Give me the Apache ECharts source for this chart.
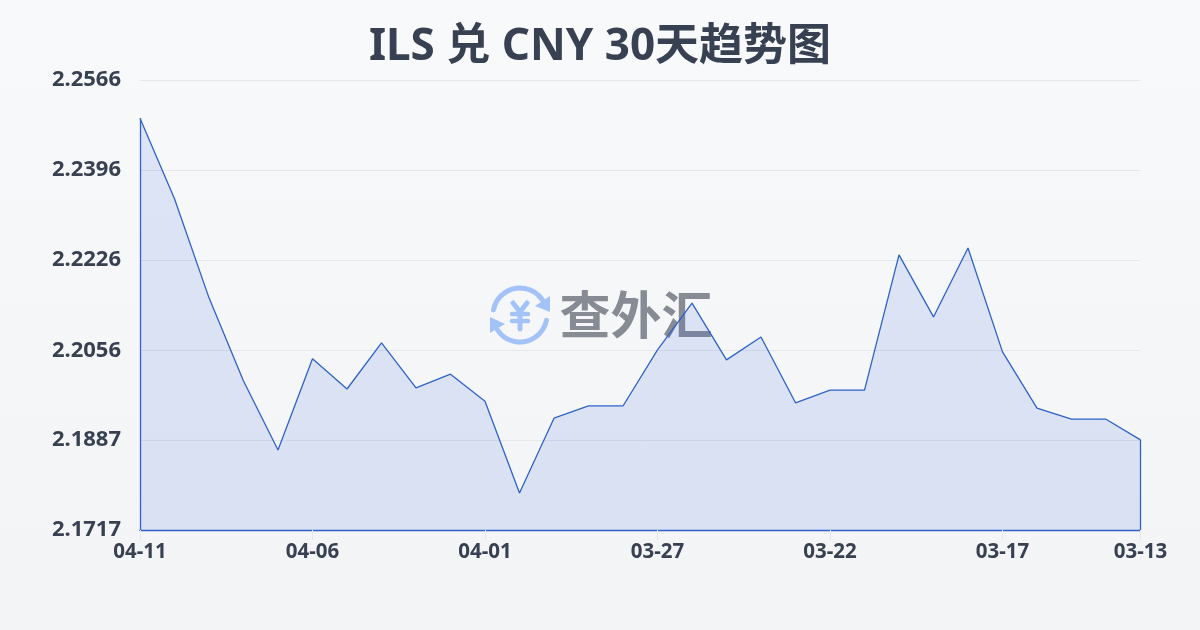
<!DOCTYPE html>
<html>
<head>
<meta charset="utf-8">
<style>
  html, body { margin: 0; padding: 0; }
  #chart { width: 1200px; height: 630px; }
</style>
<script src="https://cdn.jsdelivr.net/npm/echarts@6/dist/echarts.min.js"></script>
</head>
<body>
<div id="chart"></div>
<script>
var dates = ['04-11','04-10','04-09','04-08','04-07','04-06','04-05','04-04','04-03','04-02',
  '04-01','03-31','03-30','03-29','03-28','03-27','03-26','03-25','03-24','03-23',
  '03-22','03-21','03-20','03-19','03-18','03-17','03-16','03-15','03-14','03-13'];
var rates = [2.2494,2.2342,2.2155,2.1998,2.1868,2.2040,2.1983,2.2070,2.1985,2.2011,
  2.1960,2.1787,2.1928,2.1951,2.1951,2.2057,2.2145,2.2038,2.2081,2.1957,
  2.1981,2.1981,2.2236,2.2119,2.2249,2.2053,2.1947,2.1926,2.1926,2.1887];
var yTicks = [2.1717,2.1887,2.2056,2.2226,2.2396,2.2566];

var FONT = '"Noto Sans", "Noto Sans CJK SC", sans-serif';
var LINE = '#2f62c8';
var ICON = '#a3c2f7';

function showTick(i) {
  return i % 5 === 0 || i === dates.length - 1;
}

var myChart = echarts.init(document.getElementById('chart'));

var option = {
  animation: false,
  backgroundColor: new echarts.graphic.LinearGradient(0, 0, 0, 1, [
    { offset: 0, color: '#f8f9fb' },
    { offset: 1, color: '#f3f4f6' }
  ]),
  title: {
    text: 'ILS 兑 CNY 30天趋势图',
    left: 'center',
    top: 20,
    textStyle: { fontFamily: FONT, fontSize: 44, fontWeight: 'bold', color: '#374151' }
  },
  grid: { left: 140, right: 59.5, top: 80, bottom: 100 },
  xAxis: {
    type: 'category',
    boundaryGap: false,
    data: dates,
    axisLine: { lineStyle: { color: LINE, width: 1.3 } },
    axisTick: { interval: function (i) { return showTick(i); }, length: 10, lineStyle: { color: '#e5e7eb' } },
    axisLabel: {
      interval: function (i) { return showTick(i); },
      fontFamily: FONT, fontSize: 20.5, fontWeight: 'bold', color: '#374151', margin: 12, hideOverlap: false
    }
  },
  yAxis: {
    type: 'value',
    min: yTicks[0],
    max: yTicks[yTicks.length - 1],
    axisLine: { show: false },
    axisTick: { show: false, customValues: yTicks },
    splitLine: { lineStyle: { color: '#e5e7eb', width: 1 } },
    axisLabel: {
      customValues: yTicks,
      formatter: function (v) { return v.toFixed(4); },
      fontFamily: FONT, fontSize: 22, fontWeight: 'bold', color: '#374151', margin: 19
    }
  },
  graphic: [
    // watermark logo
    { type: 'arc', z: 0, shape: { cx: 520, cy: 315, r: 27, startAngle: -2.95, endAngle: -0.6 },
      style: { stroke: ICON, lineWidth: 5, fill: null, lineCap: 'round' } },
    { type: 'arc', z: 0, shape: { cx: 520, cy: 315, r: 27, startAngle: 0.2, endAngle: 2.55 },
      style: { stroke: ICON, lineWidth: 5, fill: null, lineCap: 'round' } },
    { type: 'polygon', z: 0, shape: { points: [[550, 296], [550, 312], [535, 306]] }, style: { fill: ICON } },
    { type: 'polygon', z: 0, shape: { points: [[490, 317], [490, 333], [505, 324]] }, style: { fill: ICON } },
    // yen sign drawn in strokes, the logo's is heavier than the font glyph
    { type: 'polyline', z: 0, shape: { points: [[513, 303], [520, 312], [527, 303]] },
      style: { stroke: ICON, lineWidth: 5, fill: null, lineCap: 'round', lineJoin: 'round' } },
    { type: 'line', z: 0, shape: { x1: 520, y1: 313, x2: 520, y2: 329 },
      style: { stroke: ICON, lineWidth: 5, lineCap: 'round' } },
    { type: 'line', z: 0, shape: { x1: 512, y1: 314, x2: 528, y2: 314 },
      style: { stroke: ICON, lineWidth: 4.5, lineCap: 'round' } },
    { type: 'line', z: 0, shape: { x1: 512, y1: 321, x2: 528, y2: 321 },
      style: { stroke: ICON, lineWidth: 4.5, lineCap: 'round' } },
    { type: 'text', z: 0, style: { x: 636, y: 315, text: '查外汇', align: 'center', verticalAlign: 'middle',
      font: 'bold 51px "Noto Sans CJK SC", sans-serif', fill: '#878b94' } }
  ],
  series: [{
    type: 'line',
    data: rates,
    symbol: 'none',
    z: 5,
    lineStyle: { color: LINE, width: 1.3 },
    areaStyle: { color: 'rgba(54,104,217,0.2)', origin: 'start' },
    markLine: {
      silent: true,
      symbol: 'none',
      label: { show: false },
      lineStyle: { color: LINE, width: 1.3, type: 'solid' },
      data: [
        [{ coord: [dates[0], yTicks[0]] }, { coord: [dates[0], rates[0]] }],
        [{ coord: [dates[dates.length - 1], yTicks[0]] }, { coord: [dates[dates.length - 1], rates[rates.length - 1]] }]
      ]
    }
  }]
};

myChart.setOption(option);
</script>
</body>
</html>
